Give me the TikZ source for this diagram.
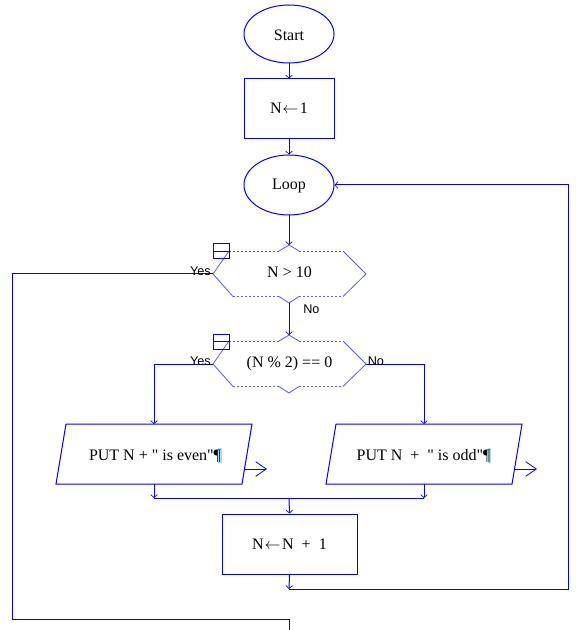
\documentclass[tikz,border=0pt]{standalone}
\usepackage{fontspec}
\setmainfont{Liberation Serif}
\newfontfamily\tnr{Liberation Serif}
\newfontfamily\lsans{Liberation Sans}
\usetikzlibrary{arrows.meta,shapes.geometric}
\definecolor{fblue}{RGB}{0,0,255}
\definecolor{lblue}{RGB}{90,90,255}
\definecolor{pilbg}{RGB}{170,220,245}
\newcommand\mypilcrow{\makebox[0pt][l]{\hspace{0.28em}\textcolor{pilbg}{\rule[-0.18em]{0.22em}{0.9em}}}¶}
\newcommand\myarrow{\kern0.05em$\leftarrow$\kern0.1em}
\begin{document}
\begin{tikzpicture}[x=0.75pt,y=-0.75pt,
  conn/.style={draw=fblue, line width=0.75pt},
  sarr/.style={conn, -{Straight Barb[length=2.2pt,width=5pt,line width=0.5pt]}},
  oarr/.style={conn, -{Straight Barb[length=8pt,width=11pt,line width=0.6pt]}},
  txt/.style={font=\tnr\fontsize{12}{14}\selectfont, inner sep=0pt, text height=0.85em, text depth=0.1em},
  term/.style={txt, ellipse, draw=fblue, line width=0.75pt},
  proc/.style={txt, rectangle, draw=fblue, line width=0.75pt},
  lbl/.style={font=\lsans\fontsize{9.5}{11}\selectfont, inner sep=0pt},
  hexside/.style={draw=lblue, line width=0.6pt},
  hexdash/.style={draw=lblue, line width=0.6pt, dash pattern=on 1.5pt off 1.5pt},
  icon/.style={draw=fblue, line width=0.75pt}
]
\useasboundingbox (0,0) rectangle (585,630);

% terminals and processes
\node[term, minimum width=67.5pt, minimum height=43.5pt] (start) at (289,34) {\raisebox{-1.2pt}{Start}};
\node[proc, minimum width=67.5pt, minimum height=45pt] (init) at (289,109) {N\myarrow 1};
\node[term, minimum width=67.5pt, minimum height=45pt] (loop) at (289,185) {Loop};
\node[proc, minimum width=101.25pt, minimum height=45pt] (inc) at (289.5,544) {N\myarrow N~~+~~1};

% decision 1
\path[hexside] (229,251) -- (213,274) -- (233,296.5);
\path[hexside] (343,251) -- (366,274) -- (343,296.5);
\path[hexdash] (229,251) -- (279,251) (299,251) -- (343,251);
\path[hexdash] (233,296.5) -- (279,296.5) (299,296.5) -- (343,296.5);
\path[hexside] (279,251) -- (289,245) -- (299,251);
\path[hexside] (279,296.5) -- (289,303) -- (299,296.5);
\node[txt] (d1) at (289.5,272.5) {N > 10};
\coordinate (d1top) at (289,245);
\coordinate (d1bot) at (289,303);
\coordinate (d1left) at (213,274);
\path[icon] (213,244) rectangle (229,259);
\path[icon] (213,251.5) -- (229,251.5);

% decision 2
\path[hexside] (229,341) -- (213,364) -- (233,386.5);
\path[hexside] (343,341) -- (366,364) -- (343,386.5);
\path[hexdash] (229,341) -- (279,341) (299,341) -- (343,341);
\path[hexdash] (233,386.5) -- (279,386.5) (299,386.5) -- (343,386.5);
\path[hexside] (279,341) -- (289,335) -- (299,341);
\path[hexside] (279,386.5) -- (289,393) -- (299,386.5);
\node[txt] (d2) at (289.5,362) {(N \% 2) == 0};
\coordinate (d2top) at (289,335);
\coordinate (d2left) at (213,364);
\coordinate (d2right) at (366,364);
\path[icon] (213,334) rectangle (229,349);
\path[icon] (213,341.5) -- (229,341.5);

% parallelograms
\path[conn] (66,424) -- (252,424) -- (242,484) -- (56,484) -- cycle;
\node[txt, text height=, text depth=, anchor=base] (p1) at (155,460) {PUT N + " is even"\mypilcrow};
\coordinate (p1top) at (154,424);
\coordinate (p1bot) at (154,484);
\coordinate (p1out) at (244.5,469);
\coordinate (p1end) at (267,469);

\path[conn] (336,424) -- (522,424) -- (512,484) -- (326,484) -- cycle;
\node[txt, text height=, text depth=, anchor=base] (p2) at (423.5,460) {PUT N~~+~~" is odd"\mypilcrow};
\coordinate (p2top) at (424,424);
\coordinate (p2bot) at (424,484);
\coordinate (p2out) at (514.5,469);
\coordinate (p2end) at (537,469);

% helper coordinates
\coordinate (yesA) at (12,274);
\coordinate (yesB) at (12,619);
\coordinate (yesC) at (289,619);
\coordinate (yesD) at (289,630);
\coordinate (evenA) at (154,364);
\coordinate (oddA) at (424,364);
\coordinate (mergeL) at (154,498);
\coordinate (mergeR) at (424,498);
\coordinate (mergeM) at (289,498);
\coordinate (backA) at (289,589);
\coordinate (backB) at (568,589);
\coordinate (backC) at (568,185);

% connectors
\draw[sarr] (start.south) -- (init.north);
\draw[sarr] (init.south) -- (loop.north);
\draw[sarr] (loop.south) -- (d1top);
\draw[sarr] (d1bot) -- (d2top);
\draw[conn] (d1left) -- (yesA) -- (yesB) -- (yesC) -- (yesD);
\draw[sarr] (d2left) -- (evenA) -- (p1top);
\draw[sarr] (d2right) -- (oddA) -- (p2top);
\draw[oarr] (p1out) -- (p1end);
\draw[oarr] (p2out) -- (p2end);
\draw[sarr] (p1bot) -- (mergeL);
\draw[sarr] (p2bot) -- (mergeR);
\draw[conn] (mergeL) -- (mergeR);
\draw[sarr] (mergeM) -- (inc.north);
\draw[sarr] (inc.south) -- (backA);
\draw[sarr] (backA) -- (backB) -- (backC) -- (loop.east);

% labels
\node[lbl, anchor=base east] (yes1) at (211,275.5) {Yes};
\node[lbl, anchor=base west] (no1) at (303,313.5) {No};
\node[lbl, anchor=base east] (yes2) at (211,365) {Yes};
\node[lbl, anchor=base west] (no2) at (367.5,365) {No};
\end{tikzpicture}
\end{document}
